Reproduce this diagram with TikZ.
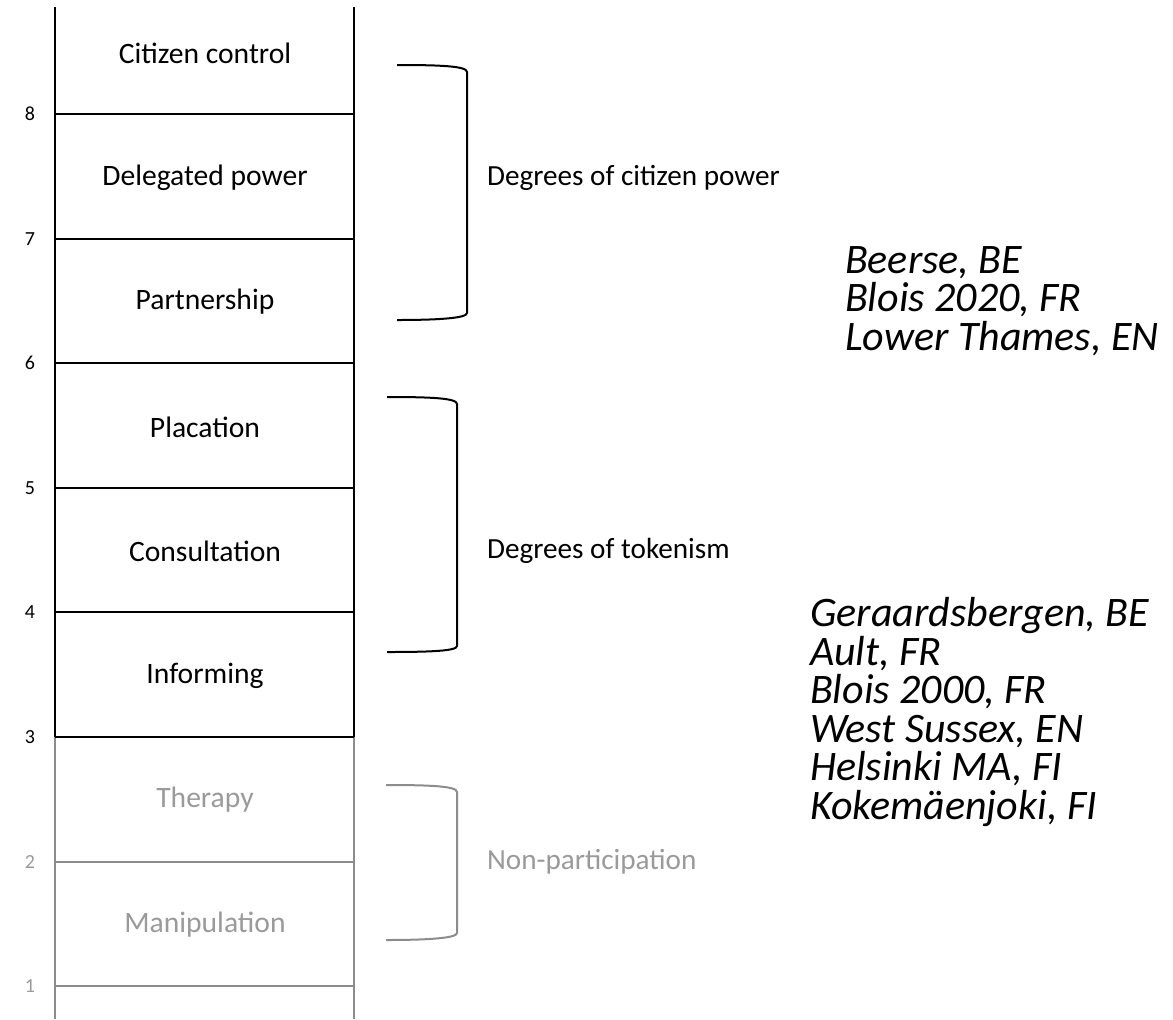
\documentclass[tikz,border=0pt]{standalone}
\usepackage{fontspec}
\setmainfont{Carlito}
\definecolor{faded}{HTML}{9A9A9A}
\definecolor{fadedline}{HTML}{8C8C8C}

\begin{document}
\begin{tikzpicture}[x=0.5pt, y=-0.5pt,
	rung/.style={font=\fontsize{14.8}{17}\selectfont},
	num/.style={font=\fontsize{10}{12}\selectfont},
	grouplabel/.style={font=\fontsize{14.6}{17}\selectfont, anchor=west},
	places/.style={font=\fontsize{21}{19.3}\selectfont\itshape, align=left, anchor=west},
	ladder/.style={line width=1pt},
	brace/.style={line width=1pt}]
	\useasboundingbox (0,0) rectangle (1173,1019);
	% ladder rails
	\draw[ladder] (55,7)--(55,737);
	\draw[ladder] (354,7)--(354,737);
	\draw[ladder, fadedline] (55,737)--(55,1019);
	\draw[ladder, fadedline] (354,737)--(354,1019);
	% rungs and numbers
	\foreach \n/\y in {8/114, 7/239, 6/363, 5/488, 4/612, 3/737} {
		\draw[ladder] (55,\y)--(354,\y);
		\node[num] (n\n) at (30,\y) {\n};
	}
	\foreach \n/\y in {2/862, 1/986} {
		\draw[ladder, fadedline] (55,\y)--(354,\y);
		\node[num, faded] (n\n) at (30,\y) {\n};
	}
	% rung names
	\node[rung] (control) at (205,53) {Citizen control};
	\node[rung] (delegated) at (205,178) {Delegated power};
	\node[rung] (partner) at (205,302) {Partnership};
	\node[rung] (placation) at (205,427) {Placation};
	\node[rung] (consult) at (205,551) {Consultation};
	\node[rung] (inform) at (205,676) {Informing};
	\node[rung, faded] (therapy) at (205,800) {Therapy};
	\node[rung, faded] (manip) at (205,925) {Manipulation};
	% brackets
	\draw[brace] (397,65) .. controls (440,65) and (467,66) .. (467,72)
		-- (467,313) .. controls (467,318) and (440,320) .. (397,320);
	\draw[brace] (387,397) .. controls (430,397) and (457,398) .. (457,404)
		-- (457,646) .. controls (457,651) and (430,652) .. (387,652);
	\draw[brace, fadedline] (386,785) .. controls (429,785) and (457,786) .. (457,792)
		-- (457,933) .. controls (457,938) and (429,940) .. (386,940);
	% group labels
	\node[grouplabel] (power) at (480,178) {Degrees of citizen power};
	\node[grouplabel] (tokenism) at (480,551) {Degrees of tokenism};
	\node[grouplabel, faded] (nonpart) at (480,862) {Non-participation};
	% cases
	\node[places] (powercases) at (838,301) {Beerse, BE\\Blois 2020, FR\\Lower Thames, EN};
	\node[places] (tokencases) at (803,712) {Geraardsbergen, BE\\Ault, FR\\Blois 2000, FR\\West Sussex, EN\\Helsinki MA, FI\\Kokemäenjoki, FI};
\end{tikzpicture}
\end{document}
